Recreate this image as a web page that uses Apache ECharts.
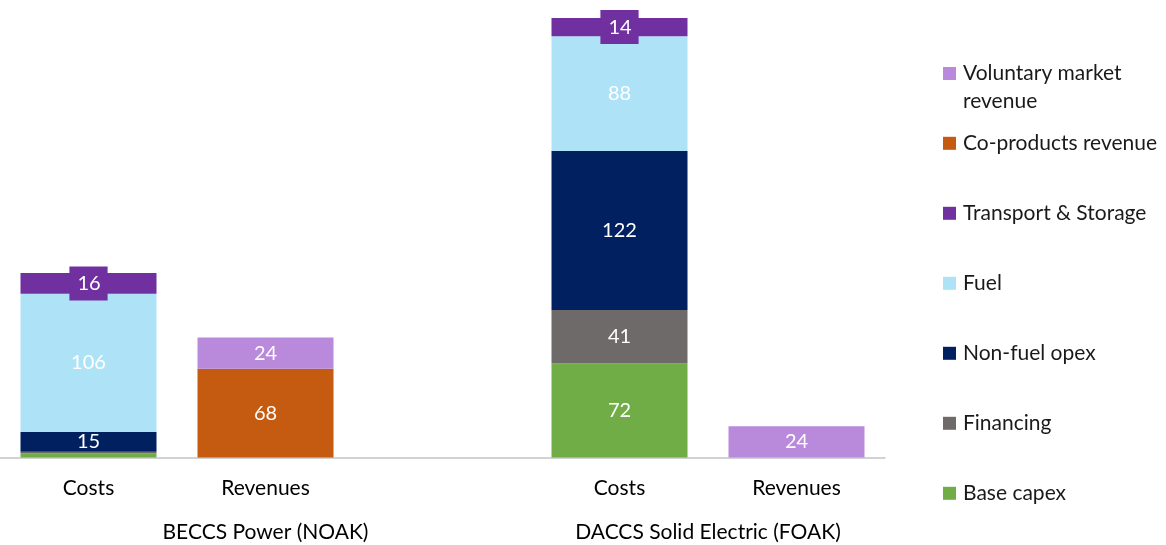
<!DOCTYPE html>
<html>
<head>
<meta charset="utf-8">
<script src="https://cdn.jsdelivr.net/npm/echarts@6/dist/echarts.min.js"></script>
<style>
  html, body { margin: 0; padding: 0; background: #fff; }
  #main { width: 1166px; height: 545px; }
</style>
</head>
<body>
<div id="main"></div>
<script>
/* 数据 */
var categories = ['Costs', 'Revenues', '', 'Costs', 'Revenues'];
var groups = ['BECCS Power (NOAK)', 'DACCS Solid Electric (FOAK)'];
var groupSizes = [3, 2];

var baseCapex        = [3,    null, null, 72,   null];
var financing        = [1.5,  null, null, 41,   null];
var nonFuelOpex      = [15,   null, null, 122,  null];
var fuel             = [106,  null, null, 88,   null];
var transportStorage = [16,   null, null, 14,   null];
var coProducts       = [null, 68,   null, null, null];
var voluntary        = [null, 24,   null, null, 24];

var font = 'Lato';

/* 分组标签的位置 */
var groupCenters = [];
var acc = 0;
for (var i = 0; i < groupSizes.length; i++) {
  groupCenters.push(acc + groupSizes[i] / 2);
  acc += groupSizes[i];
}

function makeSeries(name, data, color, boxed) {
  var label = {
    show: true,
    position: 'inside',
    color: '#fff',
    fontFamily: font,
    fontSize: 20,
    formatter: function (p) {
      return p.value >= 5 ? p.value : '';
    }
  };
  if (boxed) {
    label.backgroundColor = color;
    label.padding = [7, 7, 7, 8];
  }
  return {
    name: name,
    type: 'bar',
    stack: 'total',
    barWidth: 136,
    itemStyle: { color: color },
    label: label,
    data: data
  };
}

var legendText = {
  fontFamily: font,
  fontSize: 21,
  color: '#1a1a1a',
  lineHeight: 28,
  padding: [0, 0, 0, 2]
};

var myChart = echarts.init(document.getElementById('main'));

option = {
  animation: false,
  grid: { left: 0, right: 281, top: 1, bottom: 87.5, containLabel: false },
  legend: [{
    /* 两行的图例，空的第一行让图标对齐文字第一行 */
    orient: 'vertical',
    left: 943,
    top: 31.5,
    padding: 0,
    itemWidth: 13,
    itemHeight: 13,
    icon: 'rect',
    textStyle: legendText,
    formatter: function () {
      return '\nVoluntary market\nrevenue';
    },
    data: ['Voluntary market revenue']
  }, {
    orient: 'vertical',
    left: 943,
    top: 129.3,
    padding: 0,
    itemWidth: 13,
    itemHeight: 13,
    itemGap: 42,
    icon: 'rect',
    textStyle: legendText,
    data: ['Co-products revenue', 'Transport & Storage',
      'Fuel', 'Non-fuel opex', 'Financing', 'Base capex']
  }],
  xAxis: [{
    type: 'category',
    data: categories,
    boundaryGap: true,
    axisTick: { show: false },
    axisLine: { lineStyle: { color: '#c3c3c3', width: 1.5 } },
    axisLabel: {
      margin: 20,
      color: '#000',
      fontFamily: font,
      fontSize: 21
    }
  }, {
    type: 'value',
    position: 'bottom',
    min: 0,
    max: acc,
    axisLine: { show: false },
    axisTick: { show: false },
    splitLine: { show: false },
    axisLabel: {
      customValues: groupCenters,
      margin: 64,
      color: '#000',
      fontFamily: font,
      fontSize: 21,
      formatter: function (v) {
        var idx = groupCenters.indexOf(v);
        return idx >= 0 ? groups[idx] : '';
      }
    }
  }],
  yAxis: {
    type: 'value',
    min: 0,
    max: 350,
    show: false
  },
  series: [
    makeSeries('Base capex', baseCapex, '#70ad47'),
    makeSeries('Financing', financing, '#6e6a6a'),
    makeSeries('Non-fuel opex', nonFuelOpex, '#002060'),
    makeSeries('Fuel', fuel, '#aee3f7'),
    makeSeries('Transport & Storage', transportStorage, '#7030a0', true),
    makeSeries('Co-products revenue', coProducts, '#c55a11'),
    makeSeries('Voluntary market revenue', voluntary, '#b98adb')
  ]
};
myChart.setOption(option);
</script>
</body>
</html>
